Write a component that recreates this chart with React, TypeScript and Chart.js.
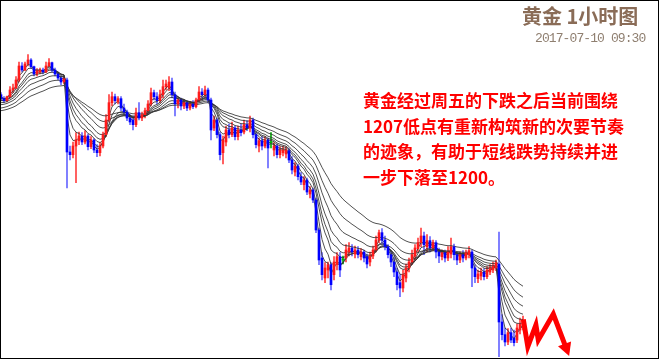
import { useEffect, useRef } from "react";
import { Chart, registerables } from "chart.js";

Chart.register(...registerables);

// Hourly gold bars (USD/oz), oldest first
const OPEN = [
  1244.3, 1243.7, 1243.4, 1244.0, 1245.0, 1245.3, 1246.5, 1248.6, 1248.0, 1248.9,
  1249.5, 1248.5, 1247.4, 1247.7, 1248.0, 1247.7, 1248.6, 1249.1, 1248.0, 1247.4,
  1246.8, 1246.2, 1246.5, 1235.7, 1235.3, 1236.6, 1237.4, 1238.1, 1237.2, 1238.1,
  1236.5, 1237.5, 1236.0, 1235.6, 1236.6, 1238.3, 1240.5, 1243.1, 1244.0, 1243.2,
  1243.7, 1242.3, 1241.7, 1240.8, 1240.5, 1239.8, 1241.6, 1240.8, 1241.3, 1241.9,
  1242.9, 1244.6, 1244.0, 1243.4, 1244.3, 1245.5, 1245.3, 1246.2, 1244.3, 1242.9,
  1243.5, 1242.6, 1243.1, 1242.3, 1242.9, 1242.5, 1243.5, 1244.7, 1244.3, 1245.0,
  1243.5, 1239.3, 1240.5, 1238.3, 1235.6, 1237.2, 1239.0, 1238.3, 1239.3, 1238.0,
  1239.0, 1238.7, 1239.8, 1239.3, 1240.5, 1238.3, 1236.6, 1237.4, 1236.6, 1237.5,
  1237.1, 1236.0, 1236.6, 1235.3, 1235.6, 1235.4, 1235.9, 1234.5, 1232.7, 1233.6,
  1232.0, 1230.8, 1231.5, 1229.4, 1230.0, 1228.5, 1224.0, 1219.8, 1216.8, 1218.0,
  1218.8, 1217.3, 1218.8, 1220.0, 1219.5, 1219.8, 1220.7, 1221.3, 1220.4, 1221.0,
  1220.0, 1220.7, 1220.0, 1219.2, 1220.1, 1221.0, 1222.5, 1223.6, 1222.5, 1221.5,
  1220.3, 1219.2, 1217.7, 1216.1, 1215.3, 1216.8, 1218.3, 1219.2, 1220.1, 1221.2,
  1222.1, 1223.1, 1221.5, 1222.4, 1221.3, 1222.1, 1220.7, 1220.0, 1220.6, 1219.8,
  1220.4, 1221.5, 1220.3, 1219.5, 1220.3, 1219.8, 1220.3, 1220.7, 1218.3, 1216.7,
  1217.1, 1217.7, 1217.0, 1217.7, 1218.0, 1218.3, 1218.9, 1210.2, 1208.3, 1207.2,
  1208.6, 1207.8, 1207.5, 1209.0, 1209.6,
];
const HIGH = [
  1244.6, 1244.0, 1244.1, 1245.5, 1245.9, 1247.0, 1249.2, 1249.1, 1249.2, 1250.3,
  1249.7, 1248.6, 1248.2, 1248.3, 1248.3, 1249.2, 1249.7, 1249.2, 1248.3, 1247.7,
  1247.1, 1247.0, 1246.8, 1236.6, 1237.2, 1238.6, 1238.7, 1238.6, 1238.9, 1238.4,
  1238.0, 1237.7, 1236.8, 1237.1, 1238.7, 1241.3, 1244.3, 1244.7, 1244.4, 1244.0,
  1244.0, 1242.9, 1242.0, 1241.3, 1241.1, 1242.3, 1243.1, 1241.7, 1242.3, 1243.4,
  1245.3, 1245.0, 1244.6, 1245.0, 1246.5, 1246.5, 1247.0, 1246.8, 1244.7, 1243.8,
  1243.8, 1243.5, 1243.4, 1243.2, 1243.4, 1243.8, 1245.5, 1245.2, 1245.6, 1245.3,
  1243.8, 1241.1, 1240.8, 1238.7, 1238.1, 1239.6, 1239.9, 1240.2, 1239.6, 1239.6,
  1239.9, 1240.5, 1240.4, 1241.1, 1240.8, 1238.6, 1237.8, 1238.0, 1238.0, 1237.8,
  1238.6, 1237.1, 1236.9, 1236.5, 1236.6, 1236.5, 1236.2, 1235.0, 1234.1, 1233.9,
  1232.6, 1232.0, 1231.8, 1230.5, 1230.3, 1228.8, 1224.3, 1220.6, 1219.1, 1219.2,
  1219.1, 1220.0, 1220.6, 1220.6, 1220.1, 1221.8, 1222.1, 1221.8, 1221.6, 1221.5,
  1221.2, 1221.0, 1220.4, 1220.7, 1221.6, 1223.1, 1224.0, 1224.2, 1223.1, 1221.8,
  1220.7, 1219.8, 1218.3, 1217.3, 1218.0, 1218.9, 1219.8, 1221.0, 1221.8, 1222.8,
  1224.3, 1223.7, 1223.3, 1223.0, 1222.5, 1222.4, 1221.3, 1221.0, 1221.0, 1221.5,
  1222.8, 1221.9, 1220.7, 1220.7, 1220.9, 1221.0, 1221.5, 1221.0, 1218.8, 1218.0,
  1218.3, 1218.2, 1218.5, 1218.8, 1219.2, 1219.5, 1223.7, 1211.3, 1209.3, 1209.2,
  1209.3, 1209.0, 1209.9, 1210.8, 1211.1,
];
const LOW = [
  1243.4, 1243.1, 1243.2, 1243.8, 1244.6, 1245.2, 1246.2, 1247.7, 1247.9, 1248.6,
  1248.2, 1247.1, 1247.1, 1247.4, 1247.4, 1247.6, 1248.5, 1247.7, 1247.1, 1246.5,
  1245.8, 1245.9, 1230.3, 1234.5, 1234.8, 1231.1, 1236.8, 1236.8, 1236.9, 1236.0,
  1236.2, 1235.6, 1235.0, 1235.1, 1236.3, 1238.0, 1240.2, 1242.6, 1242.9, 1242.9,
  1241.9, 1241.3, 1240.4, 1239.8, 1239.0, 1239.5, 1240.5, 1240.4, 1240.8, 1241.6,
  1242.6, 1243.5, 1242.9, 1243.1, 1243.8, 1245.0, 1244.9, 1243.8, 1241.1, 1242.3,
  1242.0, 1242.2, 1241.9, 1242.0, 1242.2, 1242.3, 1243.2, 1243.8, 1244.0, 1243.1,
  1237.5, 1238.9, 1237.8, 1234.5, 1233.9, 1236.6, 1237.8, 1238.0, 1237.5, 1237.5,
  1238.1, 1238.4, 1238.9, 1238.7, 1237.8, 1236.3, 1235.7, 1236.0, 1236.3, 1233.3,
  1236.3, 1235.1, 1234.8, 1234.8, 1235.1, 1234.8, 1234.1, 1232.4, 1232.1, 1231.5,
  1230.8, 1230.0, 1229.3, 1228.8, 1228.1, 1223.6, 1218.8, 1216.5, 1216.1, 1216.8,
  1215.0, 1216.5, 1218.0, 1217.0, 1218.9, 1219.2, 1220.1, 1220.1, 1219.8, 1219.8,
  1219.5, 1219.2, 1218.3, 1218.6, 1219.7, 1220.7, 1222.1, 1221.9, 1221.0, 1219.8,
  1218.5, 1217.0, 1215.0, 1214.0, 1214.7, 1216.2, 1217.7, 1218.8, 1219.5, 1220.7,
  1221.5, 1220.3, 1220.7, 1220.7, 1220.9, 1219.8, 1219.1, 1219.5, 1219.2, 1219.4,
  1219.8, 1219.5, 1218.8, 1219.1, 1219.2, 1219.5, 1219.8, 1215.5, 1216.1, 1216.1,
  1216.5, 1216.5, 1216.7, 1217.3, 1217.6, 1217.9, 1205.0, 1207.5, 1206.6, 1206.8,
  1207.1, 1206.6, 1207.1, 1208.4, 1209.0,
];
const CLOSE = [
  1243.7, 1243.4, 1244.0, 1245.0, 1245.3, 1246.5, 1248.6, 1248.0, 1248.9, 1249.5,
  1248.5, 1247.4, 1247.9, 1248.0, 1247.7, 1248.6, 1249.1, 1248.0, 1247.4, 1246.8,
  1246.2, 1246.7, 1235.7, 1235.3, 1236.6, 1237.5, 1238.1, 1237.2, 1238.1, 1236.5,
  1237.5, 1236.0, 1235.6, 1236.6, 1238.3, 1240.5, 1243.1, 1244.0, 1243.4, 1243.7,
  1242.3, 1241.7, 1240.8, 1240.2, 1239.8, 1241.6, 1240.8, 1241.3, 1241.9, 1242.9,
  1244.6, 1244.0, 1243.4, 1244.3, 1245.5, 1245.9, 1246.2, 1244.3, 1242.9, 1243.5,
  1242.6, 1243.1, 1242.3, 1242.9, 1242.5, 1243.5, 1244.7, 1244.3, 1245.0, 1243.5,
  1239.0, 1240.5, 1238.3, 1235.3, 1237.5, 1239.0, 1238.3, 1239.3, 1238.0, 1239.0,
  1238.6, 1239.8, 1239.3, 1240.5, 1238.3, 1236.8, 1237.4, 1236.6, 1237.5, 1236.3,
  1237.1, 1236.6, 1235.3, 1236.0, 1236.0, 1236.0, 1234.5, 1233.0, 1233.6, 1232.0,
  1231.2, 1231.5, 1229.7, 1230.0, 1228.5, 1224.0, 1219.5, 1217.3, 1218.3, 1218.8,
  1215.8, 1219.2, 1220.0, 1218.0, 1219.5, 1221.0, 1221.3, 1220.7, 1221.0, 1220.3,
  1220.7, 1219.8, 1218.9, 1220.1, 1221.0, 1222.5, 1223.6, 1222.5, 1221.5, 1220.3,
  1219.2, 1217.7, 1215.8, 1215.3, 1217.3, 1218.3, 1219.2, 1220.3, 1221.3, 1222.1,
  1223.1, 1221.8, 1222.4, 1221.3, 1222.1, 1220.7, 1220.1, 1220.6, 1219.8, 1220.7,
  1221.5, 1220.3, 1219.5, 1220.3, 1219.8, 1220.6, 1220.9, 1218.3, 1217.0, 1217.4,
  1217.7, 1217.0, 1218.0, 1218.3, 1218.6, 1219.1, 1210.2, 1208.3, 1207.2, 1208.6,
  1207.5, 1207.1, 1209.3, 1209.9, 1210.4,
];

// Exponential moving averages: periods and their value on the first bar
const EMA_PERIODS = [3, 5, 8, 10, 13, 18, 25, 36];
const EMA_START = [1244.0, 1243.8, 1243.5, 1243.4, 1243.1, 1242.8, 1242.3, 1241.9];

// Projected path (bar index, price) drawn as a red zigzag arrow
const ARROW_X = [174.1, 175.6, 178.3, 179.1, 184.1, 188.2];
const ARROW_Y = [1210.6, 1206.5, 1209.75, 1207.5, 1211.4, 1206.5];

const TITLE = "黄金 1小时图";
const STAMP = "2017-07-10 09:30";
const NOTE_LINES = [
  "黄金经过周五的下跌之后当前围绕",
  "1207低点有重新构筑新的次要节奏",
  "的迹象，有助于短线跌势持续并进",
  "一步下落至1200。",
];

const PRICE_MIN = 1204.5;
const PRICE_MAX = 1258.5;
const SLOT_COUNT = 220; // bar slots across the full width

const UP = "#ff1a1a";
const DOWN = "#0000ff";
const FLAT = "#00b400";

function ema(values: number[], period: number, start: number): number[] {
  const k = 2 / (period + 1);
  const out = [start];
  for (let i = 1; i < values.length; i++) {
    out.push(out[i - 1] + k * (values[i] - out[i - 1]));
  }
  return out;
}

const arrowHead = {
  id: "arrowHead",
  afterDatasetsDraw(chart: any) {
    const { ctx, scales } = chart;
    const n = ARROW_X.length;
    const x1 = scales.x.getPixelForValue(ARROW_X[n - 2]);
    const y1 = scales.y.getPixelForValue(ARROW_Y[n - 2]);
    const x2 = scales.x.getPixelForValue(ARROW_X[n - 1]);
    const y2 = scales.y.getPixelForValue(ARROW_Y[n - 1]);
    const len = Math.hypot(x2 - x1, y2 - y1);
    const ux = (x2 - x1) / len;
    const uy = (y2 - y1) / len;
    const tipX = x2 + ux * 10;
    const tipY = y2 + uy * 10;
    const bx = x2 - ux * 3;
    const by = y2 - uy * 3;
    const half = 7;
    ctx.save();
    ctx.fillStyle = "#ff0000";
    ctx.beginPath();
    ctx.moveTo(tipX, tipY);
    ctx.lineTo(bx - uy * half, by + ux * half);
    ctx.lineTo(bx + uy * half, by - ux * half);
    ctx.closePath();
    ctx.fill();
    ctx.restore();
  },
};

const frame = {
  id: "frame",
  afterDraw(chart: any) {
    const { ctx, width, height } = chart;
    ctx.save();
    ctx.strokeStyle = "#000";
    ctx.lineWidth = 1;
    ctx.strokeRect(0.5, 0.5, width - 2, height - 2);
    ctx.restore();
  },
};

export default function App() {
  const canvasRef = useRef<HTMLCanvasElement | null>(null);

  useEffect(() => {
    const canvas = canvasRef.current;
    if (!canvas) return;

    const colorOf = (i: number) =>
      CLOSE[i] > OPEN[i] ? UP : CLOSE[i] < OPEN[i] ? DOWN : FLAT;
    const wickOf = (i: number) =>
      CLOSE[i] > OPEN[i]
        ? "rgba(255,0,0,0.75)"
        : CLOSE[i] < OPEN[i]
        ? "rgba(0,0,255,0.6)"
        : FLAT;

    const bodies = OPEN.map((o, i) => ({ x: i, y: [o, CLOSE[i]] }));
    const wicks = LOW.map((l, i) => ({ x: i, y: [l, HIGH[i]] }));

    const emaSets = EMA_PERIODS.map((p, k) => {
      const vals = ema(CLOSE, p, EMA_START[k]);
      return {
        type: "line" as const,
        data: vals.map((v, i) => ({ x: i, y: v })),
        borderColor: "rgba(50,50,50,0.85)",
        borderWidth: 1,
        pointRadius: 0,
        tension: 0,
        order: 1,
      };
    });

    const chart = new Chart(canvas, {
      type: "bar",
      data: {
        datasets: [
          {
            type: "bar",
            data: bodies as any,
            backgroundColor: OPEN.map((_, i) => colorOf(i)),
            barThickness: 2,
            minBarLength: 1,
            borderWidth: 0,
            grouped: false,
            order: 0,
          },
          ...emaSets,
          {
            type: "bar",
            data: wicks as any,
            backgroundColor: OPEN.map((_, i) => wickOf(i)),
            barThickness: 1,
            borderWidth: 0,
            grouped: false,
            order: 2,
          },
          {
            type: "line",
            data: ARROW_X.map((x, i) => ({ x, y: ARROW_Y[i] })),
            borderColor: "#ff0000",
            borderWidth: 5,
            borderJoinStyle: "miter",
            pointRadius: 0,
            tension: 0,
            order: -1,
          },
        ] as any,
      },
      options: {
        responsive: false,
        devicePixelRatio: 1,
        animation: false,
        events: [],
        layout: { padding: 0 },
        plugins: {
          legend: { display: false },
          tooltip: { enabled: false },
        },
        scales: {
          x: {
            type: "linear",
            display: false,
            offset: false,
            bounds: "ticks",
            min: -1 / 3,
            max: SLOT_COUNT - 1 / 3,
            grid: { offset: false },
          },
          y: {
            type: "linear",
            display: false,
            min: PRICE_MIN,
            max: PRICE_MAX,
          },
        },
      },
      plugins: [arrowHead, frame],
    });

    return () => chart.destroy();
  }, []);

  return (
    <div
      style={{
        position: "fixed",
        left: 0,
        top: 0,
        width: 660,
        height: 360,
        background: "#fff",
        overflow: "hidden",
      }}
    >
      <canvas
        ref={canvasRef}
        width={660}
        height={360}
        style={{ position: "absolute", left: 0, top: 0, width: 660, height: 360 }}
      />
      <div
        style={{
          position: "absolute",
          left: 522,
          top: 6,
          fontFamily: '"Noto Sans CJK SC", sans-serif',
          fontWeight: 700,
          fontSize: 20,
          lineHeight: "20px",
          color: "#8a6c57",
          whiteSpace: "pre",
        }}
      >
        {TITLE}
      </div>
      <div
        style={{
          position: "absolute",
          left: 535,
          top: 32,
          fontFamily: '"Liberation Mono", monospace',
          fontSize: 13,
          lineHeight: "13px",
          letterSpacing: "-0.9px",
          color: "#8f7f70",
          whiteSpace: "pre",
        }}
      >
        {STAMP}
      </div>
      <div
        style={{
          position: "absolute",
          left: 363,
          top: 87,
          fontFamily: '"Noto Sans CJK SC", sans-serif',
          fontWeight: 700,
          fontSize: 17,
          lineHeight: "25.5px",
          color: "#ff0000",
          whiteSpace: "pre",
        }}
      >
        {NOTE_LINES.map((t, i) => (
          <div key={i}>{t}</div>
        ))}
      </div>
    </div>
  );
}
